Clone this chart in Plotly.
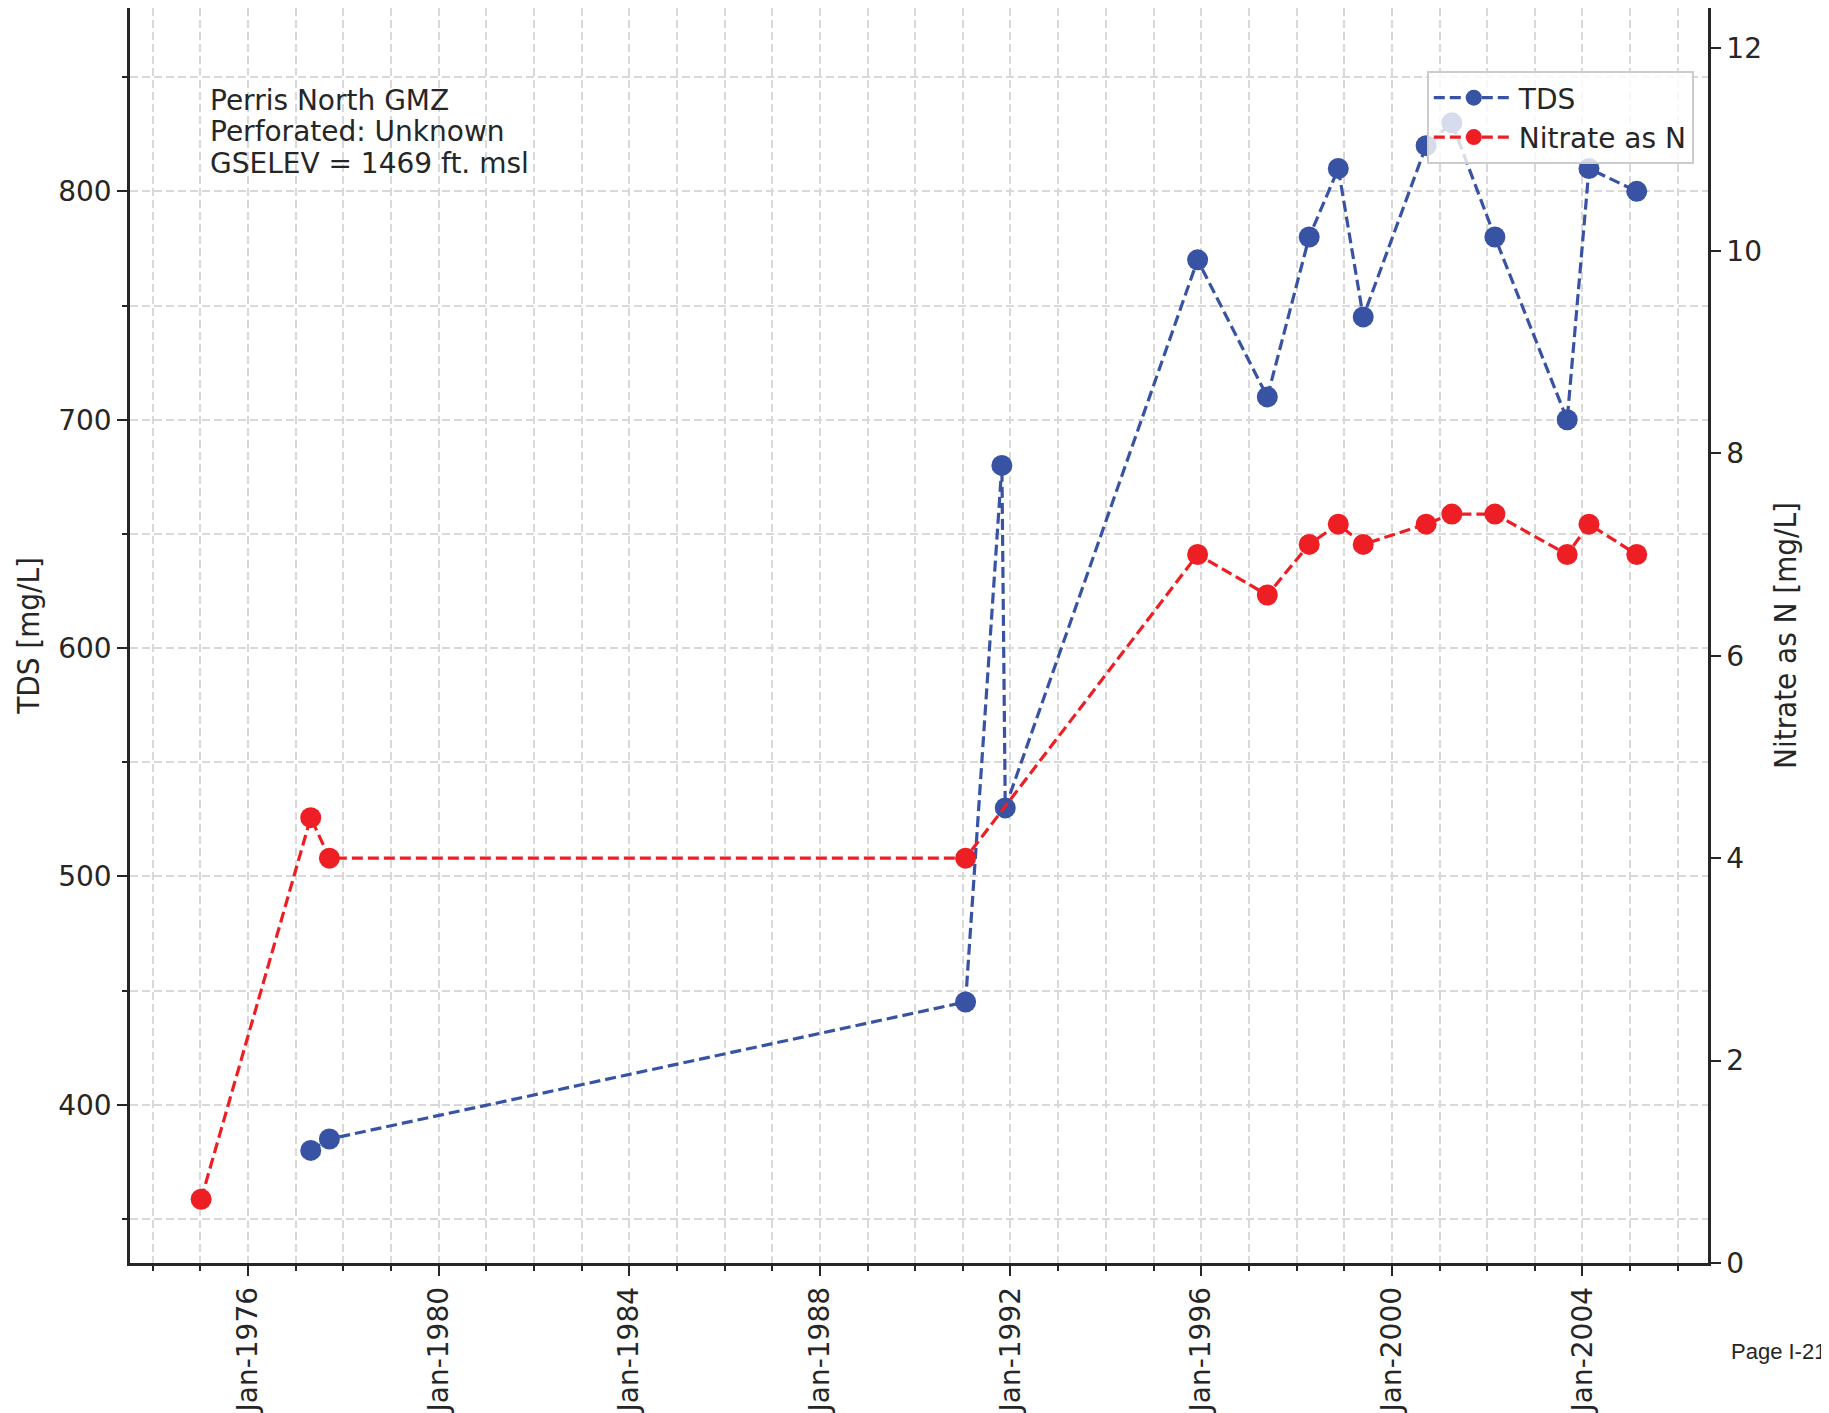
import plotly.graph_objects as go

# ---- data ----
tds_dates = ["1977-04-27", "1977-09-17", "1991-01-22", "1991-10-27", "1991-11-22",
             "1995-12-05", "1997-05-22", "1998-04-08", "1998-11-17", "1999-05-27",
             "2000-09-20", "2001-04-05", "2002-03-01", "2003-09-06", "2004-02-20",
             "2005-02-20"]
tds_values = [380, 385, 445, 680, 530, 770, 710, 780, 810, 745, 820, 830, 780, 700, 810, 800]

no3_dates = ["1975-01-08", "1977-04-27", "1977-09-17", "1991-01-22", "1995-12-05",
             "1997-05-22", "1998-04-08", "1998-11-17", "1999-05-27", "2000-09-20",
             "2001-04-05", "2002-03-01", "2003-09-06", "2004-02-20", "2005-02-20"]
no3_values = [0.63, 4.4, 4.0, 4.0, 7.0, 6.6, 7.1, 7.3, 7.1, 7.3, 7.4, 7.4, 7.0, 7.3, 7.0]

info_lines = ["Perris North GMZ", "Perforated: Unknown", "GSELEV = 1469 ft. msl"]
info_line_y = [0.9265, 0.9014, 0.8763]
page_label = "Page I-21"

BLUE = "#3953a4"
RED = "#ed1f24"
INK = "#262626"
GRID = "#d9d9d9"
TICKFONT = dict(family="DejaVu Sans", size=28, color=INK)
TITLEFONT = dict(family="Liberation Sans Narrow, DejaVu Sans Condensed, Liberation Sans", size=31, color=INK)
DASH = "11px,5px"

fig = go.Figure()
fig.add_trace(go.Scatter(
    x=tds_dates, y=tds_values, name="TDS", mode="lines+markers",
    line=dict(color=BLUE, width=3.2, dash=DASH),
    marker=dict(color=BLUE, size=21), yaxis="y"))
fig.add_trace(go.Scatter(
    x=no3_dates, y=no3_values, name="Nitrate as N", mode="lines+markers",
    line=dict(color=RED, width=3.2, dash=DASH),
    marker=dict(color=RED, size=21), yaxis="y2"))

fig.update_layout(
    width=1821, height=1405,
    margin=dict(l=122, r=121, t=0, b=150, autoexpand=False),
    paper_bgcolor="white", plot_bgcolor="white",
    showlegend=True,
    legend=dict(
        x=0.991, y=0.9498, xanchor="right", yanchor="top",
        bgcolor="rgba(255,255,255,0.8)", bordercolor="#cccccc", borderwidth=2,
        font=dict(family="DejaVu Sans", size=28, color=INK),
        itemwidth=80, tracegroupgap=0),
    xaxis=dict(
        type="date", range=["1973-07-12", "2006-08-20"],
        tick0="1976-01-01", dtick="M48", tickformat="%b-%Y", tickangle=-90,
        ticks="outside", ticklen=10, tickwidth=2, tickcolor=INK,
        tickfont=TICKFONT,
        showgrid=True, gridcolor=GRID, gridwidth=1.5, griddash="8px,4px",
        minor=dict(dtick="M12", tick0="1974-01-01", ticks="outside", ticklen=5,
                   tickwidth=1.5, tickcolor=INK, showgrid=True, gridcolor=GRID,
                   gridwidth=1.5, griddash="8px,4px"),
        showline=True, linewidth=2.5, linecolor=INK, mirror=True,
        zeroline=False, automargin=False),
    yaxis=dict(
        range=[330.7, 880.3], tick0=0, dtick=100,
        ticks="outside", ticklen=10, tickwidth=2, tickcolor=INK,
        tickfont=TICKFONT,
        showgrid=True, gridcolor=GRID, gridwidth=1.5, griddash="8px,4px",
        minor=dict(dtick=50, ticks="outside", ticklen=5, tickwidth=1.5,
                   tickcolor=INK, showgrid=True, gridcolor=GRID,
                   gridwidth=1.5, griddash="8px,4px"),
        showline=True, linewidth=2.5, linecolor=INK, mirror=True,
        zeroline=False, automargin=False,
        title=dict(text="TDS [mg/L]", font=TITLEFONT, standoff=10)),
    yaxis2=dict(
        overlaying="y", side="right", range=[0, 12.4], tick0=0, dtick=2,
        ticks="outside", ticklen=10, tickwidth=2, tickcolor=INK,
        tickfont=TICKFONT, showgrid=False,
        showline=True, linewidth=2.5, linecolor=INK,
        zeroline=False, automargin=False,
        title=dict(text="Nitrate as N [mg/L]", font=TITLEFONT, standoff=14)),
)

for line, ly in zip(info_lines, info_line_y):
    fig.add_annotation(
        text=line, xref="paper", yref="paper",
        x=0.0492, y=ly, xanchor="left", yanchor="middle", align="left",
        showarrow=False, font=dict(family="DejaVu Sans", size=28, color=INK))

fig.add_annotation(
    text=page_label, xref="paper", yref="paper",
    x=1.0762, y=-0.0705, xanchor="right", yanchor="middle",
    showarrow=False, font=dict(family="Liberation Sans Narrow, Liberation Sans", size=22, color=INK))

fig.write_html("out.html")
